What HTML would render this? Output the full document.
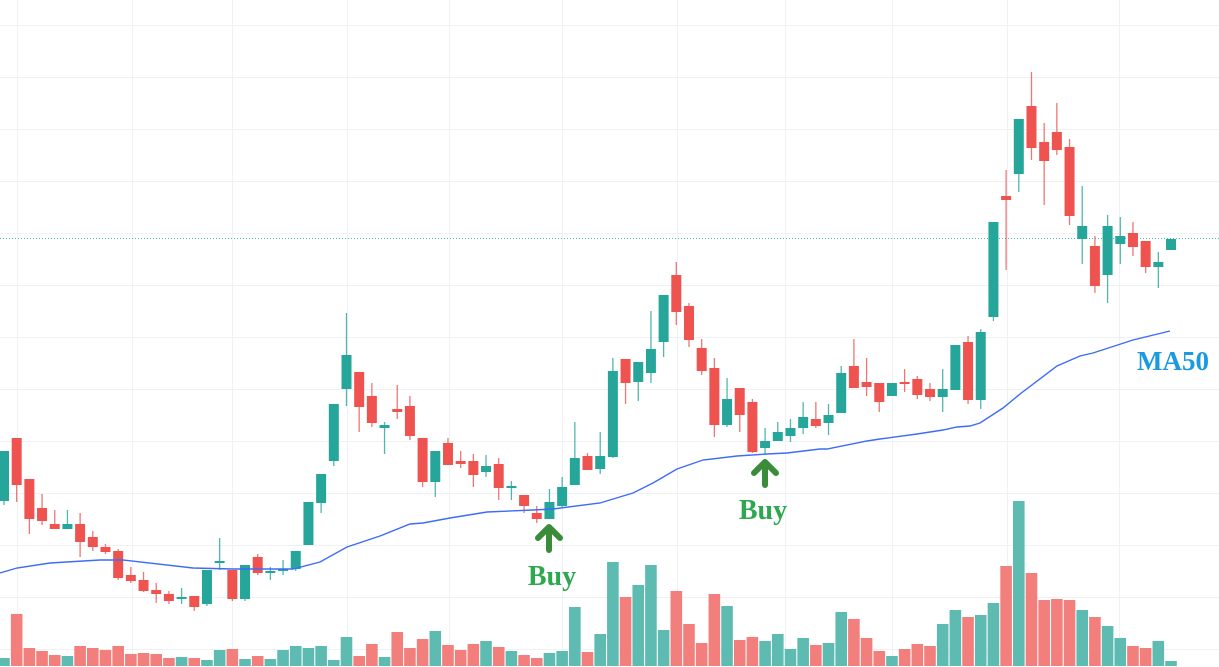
<!DOCTYPE html>
<html><head><meta charset="utf-8"><style>
html,body{margin:0;padding:0;background:#fff;width:1219px;height:667px;overflow:hidden}
svg{display:block}
.t{font-family:"Liberation Serif",serif;font-weight:bold}
</style></head><body>
<svg id="s" width="1219" height="667" viewBox="0 0 1219 667" xmlns="http://www.w3.org/2000/svg">
<g id="grid" stroke="#eff1f4" stroke-width="1"></g>
<line x1="0" y1="238.5" x2="1219" y2="238.5" stroke="#26a69a" stroke-width="1" stroke-dasharray="1,2" opacity="0.8"/>
<g id="vol"></g>
<g id="cdl"></g>
<polyline fill="none" stroke="#3d6cf5" stroke-width="1.4" points="0,573 17,568 50,563 100,560 123,560 193,568 233,569 293,569 320,562 347,547 380,536 410,524 423,523 450,518 487,512 533,510 553,509 600,503 633,493 653,483 677,469 703,460 737,456 767,454 787,453 820,449 827,449 867,441 880,439 917,434 943,430 957,427 970,426 980,423 1003,408 1020,394 1057,366 1080,356 1093,353 1133,340 1170,331"/>
<g fill="none" stroke="#3a8c3a" stroke-width="6" stroke-linecap="round" stroke-linejoin="round">
<path d="M549,550 V528 M538,538 L549,527 L560,538"/>
<path d="M765,485 V462 M754,473 L765,462 L776,473"/>
</g>
<text class="t" x="552" y="585" font-size="28" fill="#2ea84f" text-anchor="middle">Buy</text>
<text class="t" x="763" y="519" font-size="28" fill="#2ea84f" text-anchor="middle">Buy</text>
<text class="t" x="1173" y="370" font-size="27" fill="#1a9be0" text-anchor="middle">MA50</text>
</svg>
<script>
var C=[
['g',451,501,451,505],['r',438,485,438,502],['r',479,519,479,534],['r',508,521,494,525],['r',524,529,510,529],['g',524,529,510,529],['r',524,542,513,557],['r',537,547,531,551],['r',547,552,544,554],['r',551,578,549,580],
['r',575,581,567,583],['r',580,591,572,592],['r',590,594,583,603],['r',594,601,591,604],['g',597,599,588,604],['r',596,607,596,611],['g',570,604,570,606],['g',561,563,538,570],['r',570,599,570,601],['g',565,599,565,601],
['r',557,573,554,575],['g',571,573,567,580],['g',569,571,560,575],['g',551,569,551,571],['g',502,545,502,545],['g',474,503,474,513],['g',404,461,404,466],['g',355,389,313,406],['r',372,407,372,432],['r',396,423,383,427],
['g',425,428,422,454],['r',409,412,385,419],['r',406,436,396,440],['r',438,482,438,487],['g',451,482,451,497],['r',443,465,438,465],['r',461,464,451,468],['r',461,475,454,487],['g',466,472,455,477],['r',464,488,458,500],
['g',486,488,481,500],['r',495,506,495,513],['r',513,519,506,523],['g',502,519,489,519],['g',487,506,477,507],['g',458,485,422,485],['r',456,470,453,470],['g',456,469,432,474],['g',371,457,358,458],['r',359,383,359,404],
['g',362,382,362,401],['g',349,373,311,383],['g',295,342,295,357],['r',275,312,262,325],['r',306,340,303,347],['r',348,371,339,375],['r',368,425,358,437],['g',399,425,378,427],['r',388,415,388,432],['r',402,452,399,453],
['g',441,448,428,454],['g',432,441,422,441],['g',428,436,419,442],['g',417,428,402,434],['r',419,426,402,428],['g',415,423,404,435],['g',373,413,366,413],['r',366,388,339,388],['r',382,387,358,396],['r',383,402,383,412],
['g',383,396,383,396],['r',382,384,369,392],['r',379,395,376,399],['r',389,397,383,401],['g',389,397,369,412],['g',345,390,345,390],['r',342,400,336,404],['g',332,400,329,409],['g',222,317,222,321],['r',196,200,170,270],
['g',119,174,119,192],['r',106,148,72,160],['r',142,161,123,205],['r',132,150,103,155],['r',147,216,139,225],['g',226,239,186,264],['r',246,286,236,293],['g',226,275,215,303],['g',236,244,217,264],['r',233,247,222,256],
['r',241,267,241,273],['g',262,267,252,288],['g',239,250,239,250]];
var V=[658,614,648,651,655,656,646,648,650,646,654,653,654,658,657,658,660,650,649,659,656,659,650,646,648,646,660,637,656,644,657,632,648,639,631,645,650,644,641,647,651,655,658,653,651,607,652,634,562,597,585,565,630,591,624,643,594,606,640,637,641,634,649,638,645,643,612,619,638,651,656,649,644,646,624,610,617,615,603,566,501,573,600,599,600,610,617,626,638,646,648,641,661];
var ns="http://www.w3.org/2000/svg";
function el(p,n,a){var e=document.createElementNS(ns,n);for(var k in a)e.setAttribute(k,a[k]);p.appendChild(e);return e;}
var grid=document.getElementById('grid');
for(var k=-1;k<12;k++){var y=77.5+k*52;el(grid,'line',{x1:0,x2:1219,y1:y,y2:y});}
[17,132,232,347,449,562,677,785,892,1007,1119].forEach(function(x){el(grid,'line',{x1:x+.5,x2:x+.5,y1:0,y2:667});});
var vol=document.getElementById('vol'),cd=document.getElementById('cdl');
for(var i=0;i<C.length;i++){
 var c=C[i],x=4+i*12.685,g=c[0]=='g';
 el(vol,'rect',{x:x-5.8,y:V[i],width:11.6,height:666-V[i],fill:g?'#5dbbb2':'#f27f7c'});
 var col=g?'#26a69a':'#ef5350';
 el(cd,'line',{x1:x,x2:x,y1:c[3],y2:c[4],stroke:col,'stroke-width':1.3,opacity:0.8});
 var h=Math.max(c[2]-c[1],2);
 el(cd,'rect',{x:x-5,y:c[1],width:10,height:h,fill:col});
}
</script>
</body></html>
